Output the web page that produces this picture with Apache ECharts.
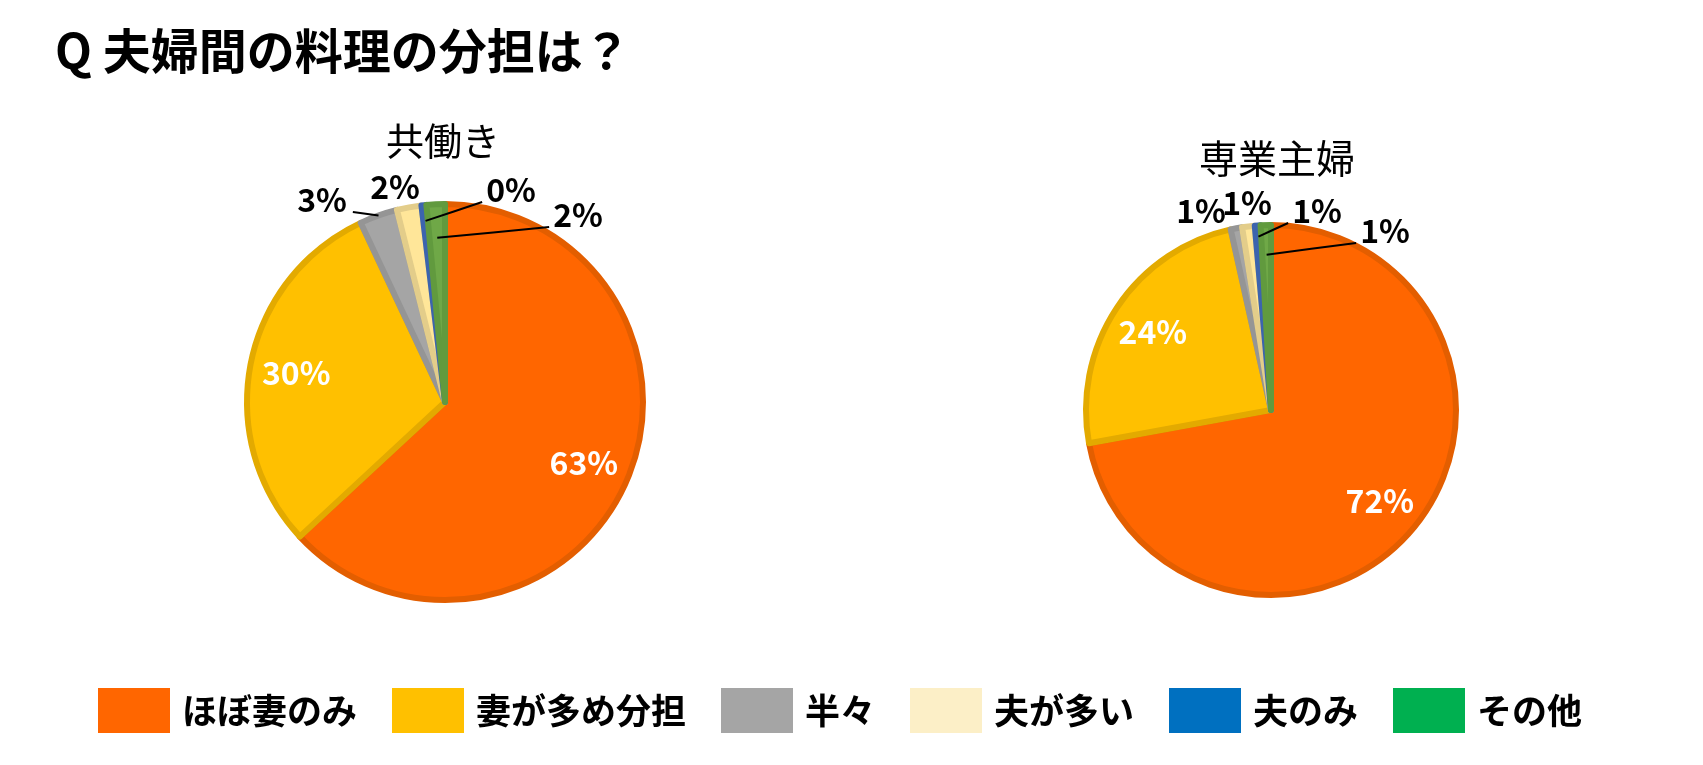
<!DOCTYPE html>
<html>
<head>
<meta charset="utf-8">
<script src="https://cdn.jsdelivr.net/npm/echarts@6/dist/echarts.min.js"></script>
<style>
  html, body { margin: 0; padding: 0; background: #fff; }
  #chart { width: 1703px; height: 765px; }
</style>
</head>
<body>
<div id="chart"></div>
<script>
// データ（%）
const categories = ['ほぼ妻のみ', '妻が多め分担', '半々', '夫が多い', '夫のみ', 'その他'];
const kyobataraki = [63.1, 29.9, 3.1, 2.0, 0.4, 1.5];
const sengyoShufu = [72.2, 24.4, 1.0, 1.1, 0.5, 0.9];

// スライス色 / 枠色 / 凡例色
const sliceColors = ['#FF6600', '#FFC000', '#A5A5A5', '#FFE699', '#4472C4', '#6FA847'];
const borderColors = ['#E35E00', '#E3AA00', '#959595', '#E3CD8A', '#3C64AE', '#619A3E'];
const legendColors = ['#FF6600', '#FFC000', '#A5A5A5', '#FCEFC7', '#0070C0', '#00B050'];

// 小さいスライスの外側ラベル配置（円の中心からのずれ, 引き出し線の終点半径比）
const leftLabelPos = [null, null, { dx: -123, dy: -202, lineR: 1.0 }, { dx: -50, dy: -215 }, { dx: 66, dy: -212, lineR: 0.92 }, { dx: 133, dy: -187, lineR: 0.83 }];
const rightLabelPos = [null, null, { dx: -70, dy: -199 }, { dx: -24, dy: -207 }, { dx: 46, dy: -199, lineR: 0.94 }, { dx: 114, dy: -179, lineR: 0.84 }];

const FONT = '"Noto Sans CJK JP", "Noto Sans", sans-serif';

function pct(v) { return Math.round(v) + '%'; }

function pieSeries(values, center, r) {
    return {
        type: 'pie',
        center: center,
        radius: r,
        startAngle: 90,
        clockwise: true,
        label: { show: false },
        labelLine: { show: false },
        data: values.map((v, i) => ({
            name: categories[i],
            value: v,
            itemStyle: { color: sliceColors[i], borderColor: borderColors[i], borderWidth: 6 }
        }))
    };
}

// ラベル用の透明リング（円の上に重ねて、引き出し線が隠れないようにする）
function labelSeries(values, center, r, placing) {
    const total = values.reduce((a, b) => a + b, 0);
    const midAngle = values.map((v, i) => {
        const before = values.slice(0, i).reduce((a, b) => a + b, 0);
        return (before + v / 2) / total * Math.PI * 2;
    });
    return {
        type: 'pie',
        z: 3,
        center: center,
        radius: [r * 0.5, r],
        startAngle: 90,
        clockwise: true,
        silent: true,
        avoidLabelOverlap: false,
        itemStyle: { color: 'rgba(0,0,0,0)' },
        label: {
            formatter: (p) => pct(p.value),
            fontFamily: FONT,
            fontWeight: 'bold',
            fontSize: 32
        },
        labelLine: {
            length: 8,
            length2: 14,
            lineStyle: { color: '#000', width: 2 }
        },
        labelLayout: function (params) {
            const pl = placing[params.dataIndex];
            if (!pl) return {};
            const lx = center[0] + pl.dx;
            const ly = center[1] + pl.dy;
            const res = { x: lx, y: ly, align: 'center', verticalAlign: 'middle' };
            if (pl.lineR) {
                const a = midAngle[params.dataIndex];
                const ex = center[0] + Math.sin(a) * r * pl.lineR;
                const ey = center[1] - Math.cos(a) * r * pl.lineR;
                const halfW = params.labelRect.width / 2;
                const sx = pl.dx < 0 ? lx + halfW + 6 : lx - halfW - 4;
                const sy = ly + 12;
                res.labelLinePoints = [[ex, ey], [(ex + sx) / 2, (ey + sy) / 2], [sx, sy]];
            }
            return res;
        },
        data: values.map((v, i) => ({
            name: categories[i],
            value: v,
            label: placing[i]
                ? { position: 'outside', color: '#000' }
                : { position: 'inside', color: '#fff' },
            labelLine: { show: !!(placing[i] && placing[i].lineR) }
        }))
    };
}

let mychart = echarts.init(document.getElementById('chart'));
let option = {
    animation: false,
    title: [{
        text: 'Q 夫婦間の料理の分担は？',
        left: 50,
        top: 22,
        textStyle: { fontFamily: FONT, fontWeight: 'bold', fontSize: 48, color: '#000' }
    }, {
        text: '共働き',
        left: 438,
        top: 117,
        textAlign: 'center',
        textStyle: { fontFamily: FONT, fontWeight: 'normal', fontSize: 38, color: '#000' }
    }, {
        text: '専業主婦',
        left: 1272,
        top: 134,
        textAlign: 'center',
        textStyle: { fontFamily: FONT, fontWeight: 'normal', fontSize: 39, color: '#000' }
    }],
    legend: {
        left: 93,
        top: 683,
        icon: 'rect',
        itemWidth: 72,
        itemHeight: 45,
        itemGap: 35,
        selectedMode: false,
        textStyle: {
            fontFamily: FONT, fontWeight: 'bold', fontSize: 35, color: '#000',
            padding: [0, 0, 0, 7]
        },
        data: categories.map((c, i) => ({ name: c, itemStyle: { color: legendColors[i], borderWidth: 0 } }))
    },
    series: [
        pieSeries(kyobataraki, [445, 402], 198),
        labelSeries(kyobataraki, [445, 402], 198, leftLabelPos),
        pieSeries(sengyoShufu, [1271, 410], 185),
        labelSeries(sengyoShufu, [1271, 410], 185, rightLabelPos)
    ]
};
mychart.setOption(option);
</script>
</body>
</html>
